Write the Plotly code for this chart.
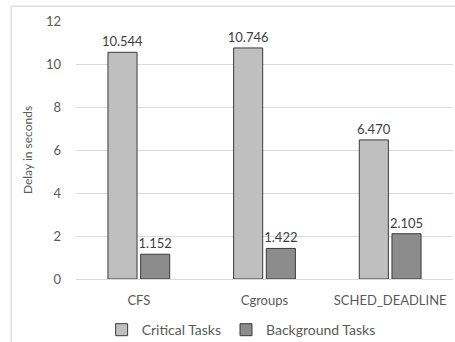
import plotly.graph_objects as go

schedulers = ["CFS", "Cgroups", "SCHED_DEADLINE"]
critical_delay = [10.544, 10.746, 6.470]
background_delay = [1.152, 1.422, 2.105]
y_ticks = [0, 2, 4, 6, 8, 10, 12]

FONT = "Lato"
TEXT = "#595959"

fig = go.Figure()
fig.add_trace(go.Bar(
    name="Critical Tasks", x=schedulers, y=critical_delay,
    marker=dict(color="#bfbfbf", line=dict(color="#3a3a3a", width=1)),
    text=critical_delay, texttemplate="%{y:.3f}", textposition="outside",
    textfont=dict(family=FONT, size=13, color="#404040"), cliponaxis=False,
))
fig.add_trace(go.Bar(
    name="Background Tasks", x=schedulers, y=background_delay,
    marker=dict(color="#8c8c8c", line=dict(color="#3a3a3a", width=1)),
    text=background_delay, texttemplate="%{y:.3f}", textposition="outside",
    textfont=dict(family=FONT, size=13, color="#404040"), cliponaxis=False,
))

# light frame around the chart area
fig.add_shape(type="line", xref="paper", yref="paper",
              x0=-0.172, x1=-0.172, y0=-0.3, y1=1.058,
              line=dict(color="#d9d9d9", width=1.2))
fig.add_shape(type="line", xref="paper", yref="paper",
              x0=-0.172, x1=1.1, y0=1.058, y1=1.058,
              line=dict(color="#d9d9d9", width=1.2))

fig.update_layout(
    width=455, height=342,
    margin=dict(l=76, r=2, t=21, b=63, autoexpand=False),
    paper_bgcolor="white", plot_bgcolor="white",
    barmode="group", bargap=0.48, bargroupgap=0.11,
    uniformtext=dict(minsize=13, mode="show"),
    font=dict(family=FONT, size=13, color=TEXT),
    showlegend=True,
    legend=dict(orientation="h", x=0.068, xanchor="left", y=-0.136, yanchor="top",
                font=dict(family=FONT, size=14, color=TEXT),
                itemwidth=30, tracegroupgap=0),
    xaxis=dict(showline=False, ticks="", ticklabelstandoff=12,
               tickfont=dict(size=13, color=TEXT)),
    yaxis=dict(range=[0, 12], tickvals=y_ticks, showgrid=True,
               gridcolor="#d9d9d9", gridwidth=1, zeroline=True,
               zerolinecolor="#d9d9d9", zerolinewidth=1,
               ticks="", ticklabelstandoff=14,
               tickfont=dict(size=13, color=TEXT),
               title=dict(text="Delay in seconds", standoff=10,
                          font=dict(size=12, color=TEXT))),
)

fig.write_html("out.html")
